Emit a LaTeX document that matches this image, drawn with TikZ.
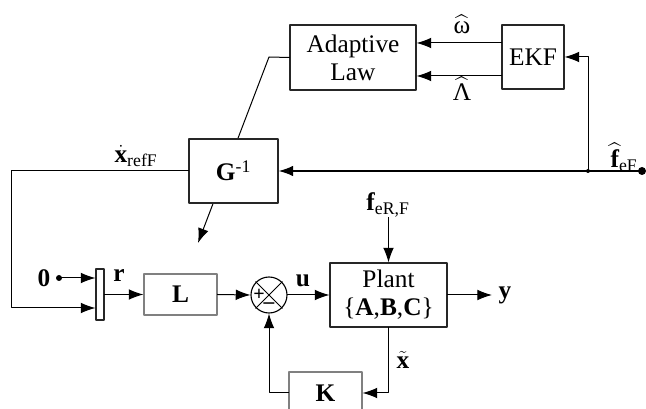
\documentclass[tikz,border=0pt]{standalone}
\usepackage{amsmath}
\usepackage{fontspec}
\setmainfont{Liberation Serif}
\usetikzlibrary{arrows.meta,positioning}

\begin{document}
\begin{tikzpicture}[
      x=0.75pt, y=-0.75pt,
      line cap=rect, line join=round, >={Latex[length=11pt,width=8pt]},
      line width=0.75pt, font=\fontsize{19}{21}\selectfont,
      block/.style={draw=black!85, fill=white, line width=0.85pt,
        align=center, inner sep=0pt},
      lightblock/.style={block, draw=black!50},
      sig/.style={->, draw=black},
      lbl/.style={inner sep=0pt}
    ]

    % ------------------ Layout ------------------
    \def\pxu{0.75pt}
    \useasboundingbox (0,0) rectangle (646,409);
    \clip (0,0) rectangle (646,409);

    % ------------------ Adaptation loop ------------------
    \node[block, minimum width=126*\pxu, minimum height=65*\pxu]
      (adapt) at (353,57.5) {Adaptive\\Law};
    \node[block, minimum width=62*\pxu, minimum height=64*\pxu]
      (ekf) at (533,57) {EKF};

    \coordinate (omegaY) at (0,43);
    \coordinate (lambdaY) at (0,76);
    \draw[sig] (ekf.west |- omegaY) -- (adapt.east |- omegaY);
    \draw[sig] (ekf.west |- lambdaY) -- (adapt.east |- lambdaY);
    \node[lbl] (omegaLbl) at (462,24) {$\widehat{\text{ω}}$};
    \node[lbl] (lambdaLbl) at (462,89) {$\widehat{\text{Λ}}$};

    % tuning arrow through G^-1 (box drawn on top)
    \coordinate (tuneBend) at (269,57);
    \coordinate (tuneTip) at (198,243);
    \draw[sig] (adapt.west) -- (tuneBend) -- (tuneTip);

    % ------------------ Reference generator ------------------
    \node[block, minimum width=89*\pxu, minimum height=64*\pxu]
      (ginv) at (233.5,171) {\textbf{G}\textsuperscript{-1}};

    \coordinate (junc) at (588,171);
    \coordinate (feF) at (642,171);
    \draw[sig, line width=1.2pt] (feF) -- (ginv.east);
    \draw[sig] (junc) |- (ekf.east);
    \fill (junc) circle (2);
    \fill (feF) circle (4);
    \node[lbl] (feFLbl) at (624,157)
      {$\widehat{\textbf{f}}_{\text{eF}}$};

    \node[lbl] (xrefLbl) at (136,156)
      {$\dot{\textbf{x}}_{\text{refF}}$};

    % ------------------ Input selector ------------------
    \node[block, minimum width=8*\pxu, minimum height=51*\pxu]
      (mux) at (100,294.5) {};
    \coordinate (leftCorner) at (11,308);
    \draw[sig] (ginv.west) -| (leftCorner) -- (mux.west |- leftCorner);

    \node[lbl] (zero) at (44,278) {\textbf{0}};
    \coordinate (zeroDot) at (59,278);
    \fill (zeroDot) circle (3);
    \draw[sig] (zeroDot) -- (mux.west |- zeroDot);

    % ------------------ Control loop ------------------
    \node[lightblock, minimum width=73*\pxu, minimum height=41*\pxu]
      (gainL) at (180.5,294.5) {\textbf{L}};
    \node[draw=black, line width=0.85pt, circle, minimum size=36*\pxu,
      inner sep=0pt] (sum) at (269,295) {};
    \draw (sum.north west) -- (sum.south east);
    \draw (sum.north east) -- (sum.south west);
    \node[lbl, font=\fontsize{15}{15}\selectfont] (plusSign) at (259,295)
      {\textbf{+}};
    \node[lbl, font=\fontsize{16}{16}\selectfont] (minusSign) at (269,306)
      {\textbf{–}};

    \node[block, minimum width=117*\pxu, minimum height=64*\pxu]
      (plant) at (388.5,295)
      {Plant\\\{\textbf{A},\textbf{B},\textbf{C}\}};
    \node[lightblock, minimum width=73*\pxu, minimum height=42*\pxu]
      (gainK) at (325.5,393) {\textbf{K}};

    \draw[sig] (mux.east) -- (gainL.west);
    \node[lbl] (rLbl) at (119,276) {\textbf{r}};
    \draw[sig] (gainL.east) -- (sum.west);
    \draw[sig] (sum.east) -- (plant.west);
    \node[lbl] (uLbl) at (303,281) {\textbf{u}};

    \coordinate (yEnd) at (492,295);
    \draw[sig] (plant.east) -- (yEnd);
    \node[lbl] (yLbl) at (505,295) {\textbf{y}};

    \coordinate (distIn) at (388.5,218);
    \draw[sig] (distIn) -- (plant.north);
    \node[lbl] (distLbl) at (388,205)
      {$\textbf{f}_{\text{eR,F}}$};

    \draw[sig] (plant.south) |- (gainK.east);
    \node[lbl] (xtLbl) at (403,360) {$\tilde{\textbf{x}}$};
    \draw[sig] (gainK.west) -| (sum.south);

  \end{tikzpicture}
\end{document}
